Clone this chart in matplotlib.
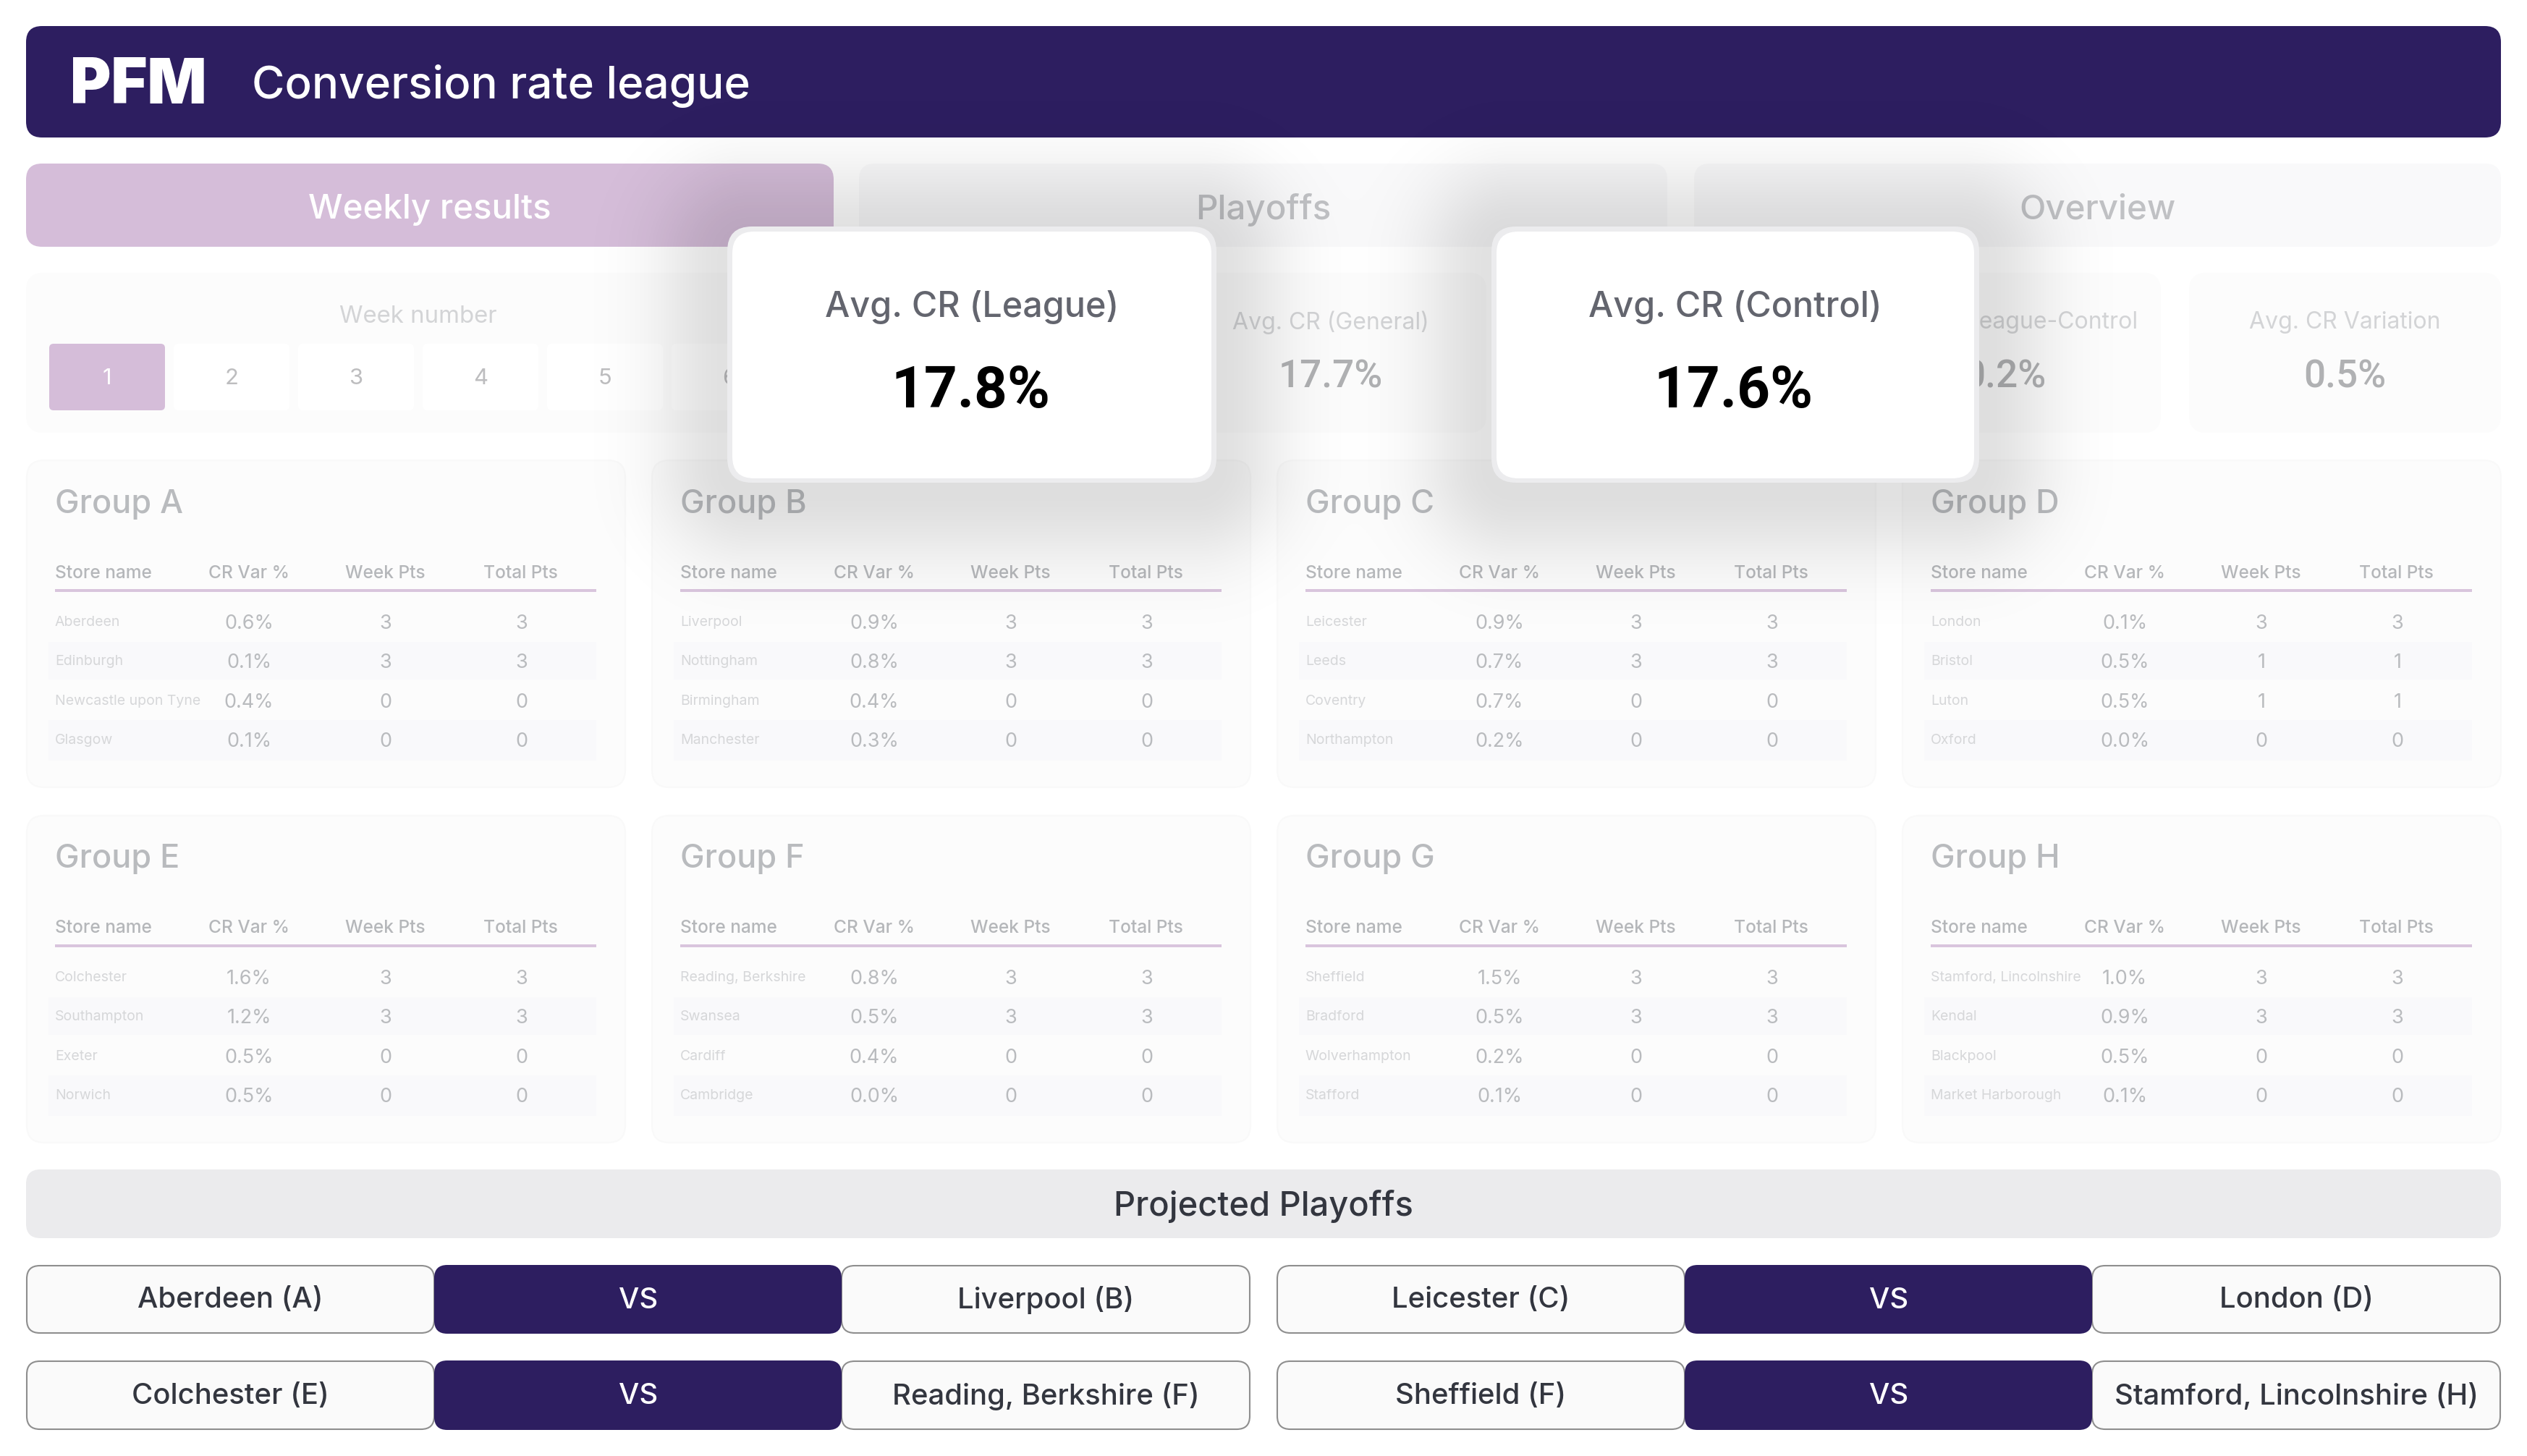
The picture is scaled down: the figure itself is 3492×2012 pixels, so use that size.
import numpy as np
import matplotlib
matplotlib.use("Agg")
import matplotlib.pyplot as plt
from matplotlib.patches import FancyBboxPatch, Rectangle

plt.rcParams['font.family'] = ['Inter', 'DejaVu Sans']

# ---- data ----
tabs = ["Weekly results", "Playoffs", "Overview"]
weeks = [1, 2, 3, 4, 5, 6]
kpi_labels = ["Avg. CR (League)", "Avg. CR (General)", "Avg. CR (Control)",
              "Avg. CR League-Control", "Avg. CR Variation"]
kpi_values = ["17.8%", "17.7%", "17.6%", "0.2%", "0.5%"]

group_names = ["Group A", "Group B", "Group C", "Group D",
               "Group E", "Group F", "Group G", "Group H"]
columns = ["Store name", "CR Var %", "Week Pts", "Total Pts"]
stores = [
    ["Aberdeen", "Edinburgh", "Newcastle upon Tyne", "Glasgow"],
    ["Liverpool", "Nottingham", "Birmingham", "Manchester"],
    ["Leicester", "Leeds", "Coventry", "Northampton"],
    ["London", "Bristol", "Luton", "Oxford"],
    ["Colchester", "Southampton", "Exeter", "Norwich"],
    ["Reading, Berkshire", "Swansea", "Cardiff", "Cambridge"],
    ["Sheffield", "Bradford", "Wolverhampton", "Stafford"],
    ["Stamford, Lincolnshire", "Kendal", "Blackpool", "Market Harborough"],
]
cr_var = [
    [0.6, 0.1, 0.4, 0.1],
    [0.9, 0.8, 0.4, 0.3],
    [0.9, 0.7, 0.7, 0.2],
    [0.1, 0.5, 0.5, 0.0],
    [1.6, 1.2, 0.5, 0.5],
    [0.8, 0.5, 0.4, 0.0],
    [1.5, 0.5, 0.2, 0.1],
    [1.0, 0.9, 0.5, 0.1],
]
week_pts = [
    [3, 3, 0, 0], [3, 3, 0, 0], [3, 3, 0, 0], [3, 1, 1, 0],
    [3, 3, 0, 0], [3, 3, 0, 0], [3, 3, 0, 0], [3, 3, 0, 0],
]
total_pts = week_pts

playoffs_title = "Projected Playoffs"
matches = [
    ["Aberdeen (A)", "Liverpool (B)", "Leicester (C)", "London (D)"],
    ["Colchester (E)", "Reading, Berkshire (F)", "Sheffield (F)", "Stamford, Lincolnshire (H)"],
]

# colours
NAVY = "#2d1e60"
LILAC = "#d5bdd9"
PALE = "#f9f9fa"
PANEL = "#fcfcfc"

W, H = 3492, 2012
fig = plt.figure(figsize=(W / 100, H / 100), dpi=100, facecolor="white")
ax = fig.add_axes([0, 0, 1, 1])
ax.set_axis_off()


def box(x0, y0, x1, y1, color, r=20, ec="none", lw=0, z=1):
    p = FancyBboxPatch((x0 + r, y0 + r), x1 - x0 - 2 * r, y1 - y0 - 2 * r,
                       boxstyle="round,pad=%d,rounding_size=%d" % (r, r),
                       fc=color, ec=ec, lw=lw, zorder=z)
    ax.add_patch(p)


def label(x, y, s, px, color, ha="center", weight="normal", z=3, family=None):
    # px = font size in image pixels
    ax.text(x, y - 2, s, fontsize=px * 0.72, color=color, ha=ha, va="center_baseline",
            fontweight=weight, zorder=z, family=family or ['Inter', 'DejaVu Sans'])


# header
box(36, 36, 3456, 190, NAVY, r=22)
label(97, 113, "PFM", 86, "white", ha="left", weight="black")
label(348, 114, "Conversion rate league", 62, "white", ha="left", weight="medium")

# tabs
tab_x = [(36, 1152), (1187, 2304), (2341, 3456)]
for i, (t, (x0, x1)) in enumerate(zip(tabs, tab_x)):
    box(x0, 226, x1, 341, LILAC if i == 0 else PALE, r=22)
    label((x0 + x1) / 2, 287, t, 47.5, "white" if i == 0 else "#c0c1c4", weight="medium")

# week selector
box(36, 377, 1123, 598, PANEL, r=24)
label(578, 436, "Week number", 33, "#d3d4d6")
for i, w in enumerate(weeks):
    x0 = 68 + i * 172
    box(x0, 475, x0 + 160, 567, LILAC if i == 0 else "white", r=6)
    label(x0 + 80, 522, str(w), 31, "white" if i == 0 else "#bdbdbf")

# kpi panels behind the two cards
kpi_x = [(1158, 1588), (1623, 2054), (2089, 2520), (2555, 2986), (3025, 3456)]
for i, (x0, x1) in enumerate(kpi_x):
    box(x0, 377, x1, 598, PANEL, r=24)
    if i in (1, 3, 4):
        cx = (x0 + x1) / 2
        label(cx, 444, kpi_labels[i], 32, "#d3d4d6")
        label(cx, 518, kpi_values[i], 53, "#b0b1b3", weight="medium", family="Roboto")

# group tables
col_x = [39, 307, 496, 684]
head_x = [39, 307, 495, 682]
row_y = [225, 279, 334, 388]
for g, name in enumerate(group_names):
    gx = 37 + (g % 4) * 864
    gy = 636 + (g // 4) * 491
    box(gx, gy, gx + 827, gy + 452, PANEL, r=24, ec="#f9f9f9", lw=1.5)
    label(gx + col_x[0], gy + 58, name, 45, "#b9bbbe", ha="left", weight="medium")
    for j, c in enumerate(columns):
        label(gx + head_x[j], gy + 156 - (g // 4), c, 24.5, "#b5b7ba",
              ha="left" if j == 0 else "center", weight="medium")
    ax.add_patch(Rectangle((gx + 39, gy + 178), 748, 4, fc="#d9c5dd", ec="none", zorder=2))
    ax.add_patch(Rectangle((gx + 30, gy + 251), 757, 52, fc="#f9f9fb", ec="none", zorder=2))
    ax.add_patch(Rectangle((gx + 30, gy + 359), 757, 56, fc="#f9f9fb", ec="none", zorder=2))
    for r in range(4):
        y = gy + row_y[r]
        label(gx + col_x[0], y - 1, stores[g][r], 19.5, "#d6d7d9", ha="left")
        label(gx + col_x[1], y, "%.1f%%" % cr_var[g][r], 27, "#b9bbbe")
        label(gx + col_x[2], y, str(week_pts[g][r]), 27, "#b9bbbe")
        label(gx + col_x[3], y, str(total_pts[g][r]), 27, "#b9bbbe")

# playoffs
box(36, 1616, 3456, 1711, "#ebebed", r=20)
label(1746, 1664, playoffs_title, 47, "#33363f", weight="medium")
for m, (y0, y1) in enumerate([(1748, 1842), (1880, 1975)]):
    for s, off in enumerate([0, 1728]):
        a, b = matches[m][2 * s], matches[m][2 * s + 1]
        box(37 + off, y0 + 1, 600 + off, y1, "#fafafa", r=18, ec="#8e8e8e", lw=1.5, z=2)
        box(1163 + off, y0 + 1, 1727 + off, y1, "#fafafa", r=18, ec="#8e8e8e", lw=1.5, z=2)
        box(600 + off, y0, 1163 + off, y1 + 1, NAVY, r=18, z=2)
        label(318 + off, (y0 + y1) / 2, a, 40, "#33363f", weight="medium")
        label(882 + off, (y0 + y1) / 2, "VS", 40, "white", weight="medium")
        label(1445 + off, (y0 + y1) / 2, b, 40, "#33363f", weight="medium")


# soft shadow of the two highlighted cards
def rr_dist(xx, yy, x0, y0, x1, y1, r):
    cx, cy = (x0 + x1) / 2, (y0 + y1) / 2
    qx = np.abs(xx - cx) - ((x1 - x0) / 2 - r)
    qy = np.abs(yy - cy) - ((y1 - y0) / 2 - r)
    return np.hypot(np.maximum(qx, 0), np.maximum(qy, 0)) + np.minimum(np.maximum(qx, qy), 0) - r


cards = [(1005, 313, 1681, 667, 0), (2061, 313, 2735, 667, 2)]
xx, yy = np.meshgrid(np.arange(W, dtype=np.float32), np.arange(H, dtype=np.float32))
shadow = np.zeros((H, W, 4), dtype=np.float32)
for x0, y0, x1, y1, k in cards:
    d = np.maximum(rr_dist(xx, yy, x0, y0 + 10, x1, y1 + 10, 30), 0)
    shadow[..., 3] += 0.12 * np.exp(-(d / 100.0) ** 2)
ax.imshow(np.clip(shadow, 0, 1), extent=(0, W, H, 0), aspect="auto", zorder=5, interpolation="nearest")

for x0, y0, x1, y1, k in cards:
    box(x0, y0, x1, y1, "#ececee", r=34, z=6)
    box(x0 + 7, y0 + 7, x1 - 7, y1 - 6, "white", r=30, z=7)
    cx = (x0 + x1) / 2
    label(cx, 421, kpi_labels[k], 48.5, "#63656e", z=8, weight="medium")
    label(cx - 2, 536, kpi_values[k], 80, "black", z=8, weight="bold", family="Roboto")

ax.set_xlim(0, W)
ax.set_ylim(H, 0)
fig.savefig("out.png", dpi=100, facecolor="white")
